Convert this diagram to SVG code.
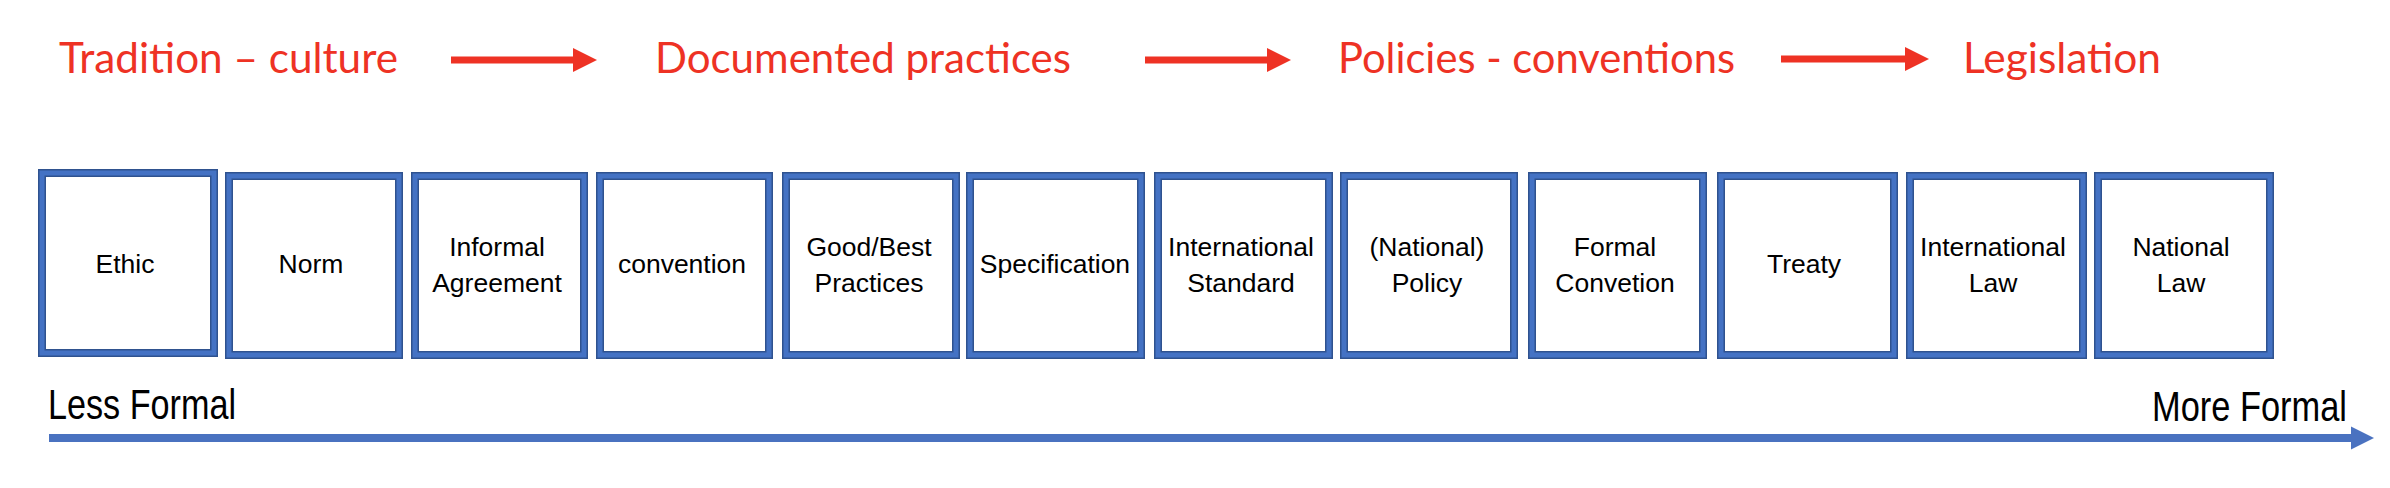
<svg xmlns="http://www.w3.org/2000/svg" width="2390" height="488" viewBox="0 0 2390 488">
  <style>
    .hdr { font-family: Lato, "Open Sans", sans-serif; font-size: 42px; fill: #EE3224; }
    .box-o { fill: #ffffff; stroke: #2F528F; stroke-width: 8; }
    .box-i { fill: none; stroke: #4472C4; stroke-width: 5; }
    .lbl { font-family: "Liberation Sans", Arial, sans-serif; font-size: 26.5px; fill: #000000; text-anchor: middle; }
    .axis { font-family: "Liberation Sans", Arial, sans-serif; font-size: 43px; fill: #000000; }
    .red-arrow { stroke: #EE3224; stroke-width: 7; fill: none; marker-end: url(#redHead); }
    .blue-arrow { stroke: #4A72C0; stroke-width: 8; fill: none; marker-end: url(#blueHead); }
  </style>
  <defs>
    <marker id="redHead" markerUnits="userSpaceOnUse" markerWidth="24" markerHeight="24" refX="0" refY="12" orient="auto">
      <path d="M0,0 L24,12 L0,24 Z" fill="#EE3224"/>
    </marker>
    <marker id="blueHead" markerUnits="userSpaceOnUse" markerWidth="24" markerHeight="24" refX="0" refY="12" orient="auto">
      <path d="M0,0.5 L23,12 L0,23.5 Z" fill="#4A72C0"/>
    </marker>
  </defs>
  <rect x="0" y="0" width="2390" height="488" fill="#ffffff"/>

  <g id="stage-labels">
    <text class="hdr" x="59" y="73" textLength="339" lengthAdjust="spacingAndGlyphs">Tradition – culture</text>
    <text class="hdr" x="655" y="73" textLength="416" lengthAdjust="spacingAndGlyphs">Documented practices</text>
    <text class="hdr" x="1338" y="73" textLength="397" lengthAdjust="spacingAndGlyphs">Policies - conventions</text>
    <text class="hdr" x="1963" y="73" textLength="198" lengthAdjust="spacingAndGlyphs">Legislation</text>
  </g>

  <g id="connectors">
    <line class="red-arrow" x1="451" y1="60" x2="573" y2="60"/>
    <line class="red-arrow" x1="1145" y1="60" x2="1267" y2="60"/>
    <line class="red-arrow" x1="1781" y1="59" x2="1905" y2="59"/>
    <line class="blue-arrow" x1="49" y1="438" x2="2351" y2="438"/>
  </g>

  <g id="node-ethic">
    <rect class="box-o" x="42" y="173" width="172" height="180"/>
    <rect class="box-i" x="42" y="173" width="172" height="180"/>
    <text class="lbl" x="125" y="273">Ethic</text>
  </g>
  <g id="node-norm">
    <rect class="box-o" x="229" y="176" width="170" height="179"/>
    <rect class="box-i" x="229" y="176" width="170" height="179"/>
    <text class="lbl" x="311" y="273">Norm</text>
  </g>
  <g id="node-informal-agreement">
    <rect class="box-o" x="415" y="176" width="169" height="179"/>
    <rect class="box-i" x="415" y="176" width="169" height="179"/>
    <text class="lbl" x="497" y="256">Informal</text>
    <text class="lbl" x="497" y="292">Agreement</text>
  </g>
  <g id="node-convention">
    <rect class="box-o" x="600" y="176" width="169" height="179"/>
    <rect class="box-i" x="600" y="176" width="169" height="179"/>
    <text class="lbl" x="682" y="273">convention</text>
  </g>
  <g id="node-good-best-practices">
    <rect class="box-o" x="786" y="176" width="170" height="179"/>
    <rect class="box-i" x="786" y="176" width="170" height="179"/>
    <text class="lbl" x="869" y="256">Good/Best</text>
    <text class="lbl" x="869" y="292">Practices</text>
  </g>
  <g id="node-specification">
    <rect class="box-o" x="970" y="176" width="171" height="179"/>
    <rect class="box-i" x="970" y="176" width="171" height="179"/>
    <text class="lbl" x="1055" y="273">Specification</text>
  </g>
  <g id="node-international-standard">
    <rect class="box-o" x="1158" y="176" width="171" height="179"/>
    <rect class="box-i" x="1158" y="176" width="171" height="179"/>
    <text class="lbl" x="1241" y="256">International</text>
    <text class="lbl" x="1241" y="292">Standard</text>
  </g>
  <g id="node-national-policy">
    <rect class="box-o" x="1344" y="176" width="170" height="179"/>
    <rect class="box-i" x="1344" y="176" width="170" height="179"/>
    <text class="lbl" x="1427" y="256">(National)</text>
    <text class="lbl" x="1427" y="292">Policy</text>
  </g>
  <g id="node-formal-convetion">
    <rect class="box-o" x="1532" y="176" width="171" height="179"/>
    <rect class="box-i" x="1532" y="176" width="171" height="179"/>
    <text class="lbl" x="1615" y="256">Formal</text>
    <text class="lbl" x="1615" y="292">Convetion</text>
  </g>
  <g id="node-treaty">
    <rect class="box-o" x="1721" y="176" width="173" height="179"/>
    <rect class="box-i" x="1721" y="176" width="173" height="179"/>
    <text class="lbl" x="1804" y="273">Treaty</text>
  </g>
  <g id="node-international-law">
    <rect class="box-o" x="1910" y="176" width="173" height="179"/>
    <rect class="box-i" x="1910" y="176" width="173" height="179"/>
    <text class="lbl" x="1993" y="256">International</text>
    <text class="lbl" x="1993" y="292">Law</text>
  </g>
  <g id="node-national-law">
    <rect class="box-o" x="2098" y="176" width="172" height="179"/>
    <rect class="box-i" x="2098" y="176" width="172" height="179"/>
    <text class="lbl" x="2181" y="256">National</text>
    <text class="lbl" x="2181" y="292">Law</text>
  </g>

  <g id="axis-labels">
    <text class="axis" x="48" y="419" textLength="188" lengthAdjust="spacingAndGlyphs">Less Formal</text>
    <text class="axis" x="2152" y="421" textLength="195" lengthAdjust="spacingAndGlyphs">More Formal</text>
  </g>
</svg>
